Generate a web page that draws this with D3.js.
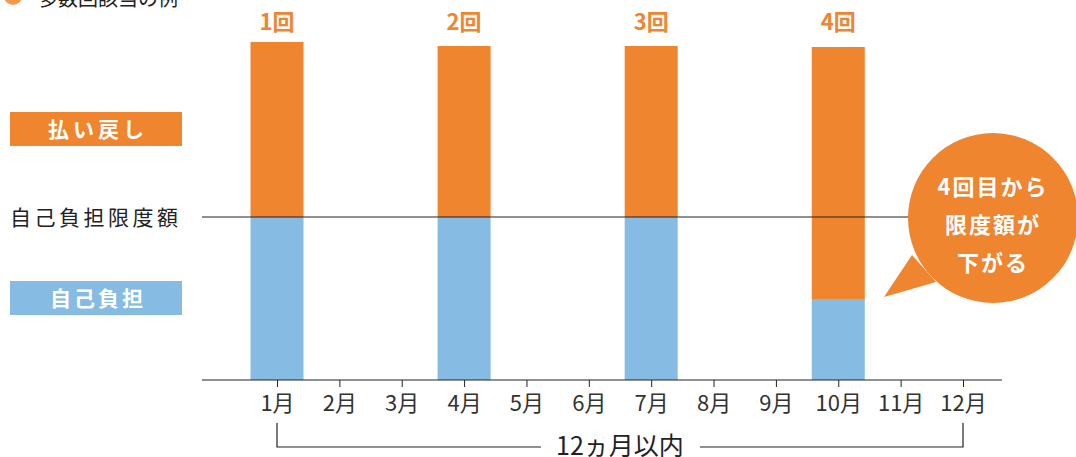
<!DOCTYPE html>
<html>
<head>
<meta charset="utf-8">
<script src="https://d3js.org/d3.v7.min.js"></script>
<style>
  body { margin: 0; background: #fff; }
  svg { display: block; font-family: "Noto Sans CJK JP", "Noto Sans", sans-serif; }
</style>
</head>
<body>
<svg id="chart"></svg>
<script>
// data
var months = ["1月","2月","3月","4月","5月","6月","7月","8月","9月","10月","11月","12月"];
var barMonths = ["1月","4月","7月","10月"];
var counts = ["1回","2回","3回","4回"];
var selfPay = [163, 163, 163, 81];   // 自己負担
var refund = [175, 171, 171, 252];   // 払い戻し
var limit = 163;                     // 自己負担限度額
var bubbleLines = ["4回目から", "限度額が", "下がる"];

var W = 1076, H = 457;
var orange = "#ef852e", blue = "#86bce3", ink = "#222";

var svg = d3.select("#chart").attr("width", W).attr("height", H);

var x = d3.scalePoint().domain(months).range([277, 963]);
var y = d3.scaleLinear().domain([0, 338]).range([380, 42]);
var bw = 53;

// title (cut off at the top)
svg.append("circle").attr("cx", 13).attr("cy", -4).attr("r", 9).attr("fill", "#f39a4c");
svg.append("text").attr("x", 38).attr("y", 6).attr("font-size", 20).attr("fill", ink)
  .text("多数回該当の例");

// bars
var bars = svg.append("g");
barMonths.forEach(function (m, i) {
  var x0 = x(m) - bw / 2;
  bars.append("rect").attr("x", x0).attr("width", bw)
    .attr("y", y(selfPay[i])).attr("height", y(0) - y(selfPay[i]))
    .attr("fill", blue);
  bars.append("rect").attr("x", x0).attr("width", bw)
    .attr("y", y(selfPay[i] + refund[i])).attr("height", y(selfPay[i]) - y(selfPay[i] + refund[i]))
    .attr("fill", orange);
  svg.append("text").attr("x", x(m)).attr("y", 30)
    .attr("text-anchor", "middle").attr("font-size", 22).attr("font-weight", "bold")
    .attr("fill", orange).text(counts[i]);
});

// limit line
svg.append("line").attr("x1", 202).attr("x2", 930)
  .attr("y1", y(limit)).attr("y2", y(limit))
  .attr("stroke", ink).attr("stroke-width", 1.2);

// left legend labels
svg.append("rect").attr("x", 10).attr("y", 112).attr("width", 172).attr("height", 34).attr("fill", orange);
svg.append("text").attr("x", 98).attr("y", 137).attr("text-anchor", "middle")
  .attr("font-size", 21).attr("font-weight", "bold").attr("fill", "#fff").attr("letter-spacing", 4)
  .text("払い戻し");
svg.append("text").attr("x", 10).attr("y", y(limit) + 8)
  .attr("font-size", 21).attr("fill", ink).attr("letter-spacing", 3.5).text("自己負担限度額");
svg.append("rect").attr("x", 10).attr("y", 281).attr("width", 172).attr("height", 34).attr("fill", blue);
svg.append("text").attr("x", 98).attr("y", 306).attr("text-anchor", "middle")
  .attr("font-size", 21).attr("font-weight", "bold").attr("fill", "#fff").attr("letter-spacing", 3)
  .text("自己負担");

// x axis
svg.append("line").attr("x1", 202).attr("x2", 1002).attr("y1", 380).attr("y2", 380)
  .attr("stroke", ink).attr("stroke-width", 1.2);
var ax = svg.append("g").attr("transform", "translate(0,380)")
  .call(d3.axisBottom(x).tickSize(7).tickPadding(8));
ax.select(".domain").remove();
ax.selectAll(".tick line").attr("stroke", ink);
ax.selectAll(".tick text").attr("font-size", 22).attr("fill", "#333")
  .attr("font-family", "'Noto Sans CJK JP', sans-serif");

// 12ヵ月以内 bracket
var bx0 = x("1月"), bx1 = x("12月"), by = 447;
svg.append("path")
  .attr("d", "M" + bx0 + ",423V" + by + "H541M700," + by + "H" + bx1 + "V423")
  .attr("fill", "none").attr("stroke", ink).attr("stroke-width", 1.2);
svg.append("text").attr("x", 620).attr("y", 455).attr("text-anchor", "middle")
  .attr("font-size", 25).attr("fill", ink).text("12ヵ月以内");

// speech bubble
var cx = 993, cy = 218, r = 85;
svg.append("path").attr("d", "M912,255L884,297L936,282Z").attr("fill", orange);
svg.append("circle").attr("cx", cx).attr("cy", cy).attr("r", r).attr("fill", orange);
bubbleLines.forEach(function (t, i) {
  svg.append("text").attr("x", cx).attr("y", 195 + i * 38).attr("text-anchor", "middle")
    .attr("font-size", 22).attr("font-weight", "bold").attr("fill", "#fff").attr("letter-spacing", 2)
    .text(t);
});
</script>
</body>
</html>
